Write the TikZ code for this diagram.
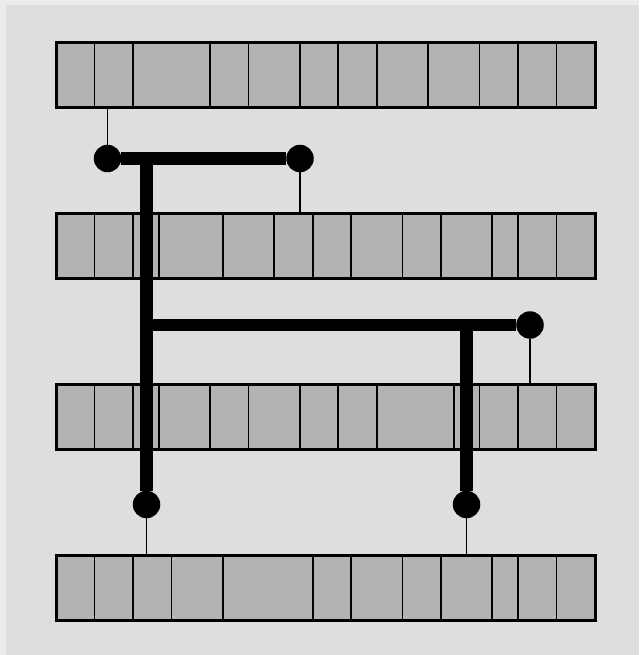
\documentclass[tikz,border=0pt]{standalone}
\usepackage{tikz}
\usetikzlibrary{calc}

\definecolor{pagetone}{HTML}{ECECEC}
\definecolor{paneltone}{HTML}{DEDEDE}
\definecolor{celltone}{HTML}{B3B3B3}

\tikzset{
  cellline/.style={black,line width=1.8pt},
  barframe/.style={black,line width=3pt},
  bus/.style={black,line width=12.7pt},
  tap/.style={black,line width=1.5pt},
  joint/.style={circle,fill=black,inner sep=0pt,minimum size=27.5pt},
}

% one register row: #1 top y, #2 interior cuts (in 1/42 of the width)
\newcommand{\regrow}[2]{%
  \fill[celltone] (56,#1) rectangle (595,#1+65);
  \foreach \k in {#2}
    \draw[cellline] (56+12.833*\k,#1) -- (56+12.833*\k,#1+65);
  \draw[barframe] (56,#1) rectangle (595,#1+65);
}

\begin{document}
\begin{tikzpicture}[x=1pt,y=-1pt]
  % page and panel
  \fill[pagetone] (0,0) rectangle (639,655);
  \fill[paneltone] (6,5) rectangle (639,655);
  \useasboundingbox (0,0) rectangle (639,655);

  % registers
  \regrow{43}{3,6,12,15,19,22,25,29,33,36,39}
  \regrow{213}{3,6,8,13,17,20,23,27,30,34,36,39}
  \regrow{384}{3,6,8,12,15,19,22,25,31,33,36,39}
  \regrow{555}{3,6,9,13,20,23,27,30,34,36,39}

  % joints
  \node[joint] (jA) at (107.5,158.5) {};
  \node[joint] (jB) at (300,158.5) {};
  \node[joint] (jC) at (530,325) {};
  \node[joint] (jD) at (466.5,504.5) {};
  \node[joint] (jE) at (146.5,504.5) {};

  % tap ends on the registers
  \coordinate (tapA) at (107.5,108);
  \coordinate (tapB) at (300,213);
  \coordinate (tapC) at (530,384);
  \coordinate (tapD) at (466.5,555);
  \coordinate (tapE) at (146.5,555);

  % bus corners
  \coordinate (busTop) at (146.5,158.5);
  \coordinate (busMid) at (146.5,325);
  \coordinate (busRight) at (466.5,325);

  \draw[tap] (jA) -- (tapA);
  \draw[tap] (jB) -- (tapB);
  \draw[tap] (jC) -- (tapC);
  \draw[tap] (jD) -- (tapD);
  \draw[tap] (jE) -- (tapE);

  \draw[bus] (jA) -- (jB);
  \draw[bus] (busTop) -- (jE);
  \draw[bus] (busMid) -- (jC);
  \draw[bus] (busRight) -- (jD);
\end{tikzpicture}
\end{document}
